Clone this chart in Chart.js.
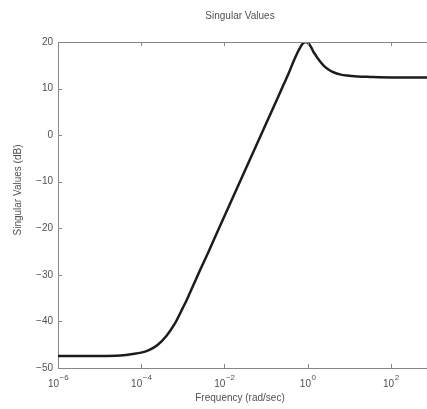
<!DOCTYPE html>
<html>
<head>
<meta charset="utf-8">
<script src="https://cdn.jsdelivr.net/npm/chart.js@4/dist/chart.umd.min.js"></script>
<style>
  html, body { margin: 0; padding: 0; background: #fff; }
  #c { display: block; }
</style>
</head>
<body>
<canvas id="c" width="427" height="409"></canvas>
<script>
// Frequencies (rad/sec)
const freqs = [1e-6, 3.16e-6, 1e-5, 3.16e-5, 6.31e-5, 1e-4, 1.58e-4, 2.51e-4, 3.98e-4, 6.31e-4,
  1e-3, 1.26e-3, 1.58e-3, 2.51e-3, 3.98e-3, 6.31e-3, 1e-2, 3.16e-2, 0.1, 0.2, 0.263, 0.355, 0.457,
  0.562, 0.661, 0.741, 0.813, 0.891, 0.977, 1.096, 1.23, 1.38, 1.58, 1.78, 2.09, 2.40, 3.16,
  4.17, 6.31, 8.71, 15.8, 31.6, 100, 316, 741];
// Singular values (dB)
const svDb = [-47.4, -47.4, -47.4, -47.3, -47.0, -46.7, -46.1, -45.0, -43.2, -40.6,
  -37.1, -35.3, -33.3, -29.3, -25.4, -21.4, -17.4, -7.5, 2.45, 8.4, 10.8, 13.4, 15.8,
  17.6, 18.8, 19.5, 19.85, 20.0, 19.9, 19.5, 18.8, 17.9, 17.1, 16.4, 15.6, 15.0, 14.1,
  13.5, 13.0, 12.8, 12.6, 12.5, 12.4, 12.4, 12.4];
// Tick labels
const xTickExponents = [-6, -4, -2, 0, 2];
const yTickValues = [-50, -40, -30, -20, -10, 0, 10, 20];
const titleText = 'Singular Values';
const xLabelText = 'Frequency (rad/sec)';
const yLabelText = 'Singular Values (dB)';

const FONT = '"Liberation Sans", Arial, sans-serif';
const AXIS_COLOR = '#868686';
const TEXT_COLOR = '#505050';

const decorPlugin = {
  id: 'decor',
  afterDraw(chart) {
    const ctx = chart.ctx;
    const a = chart.chartArea;
    const xs = chart.scales.x, ys = chart.scales.y;
    ctx.save();
    // top border
    ctx.strokeStyle = AXIS_COLOR;
    ctx.lineWidth = 1;
    ctx.beginPath();
    ctx.moveTo(a.left, Math.round(a.top) + 0.5);
    ctx.lineTo(a.right, Math.round(a.top) + 0.5);
    ctx.stroke();
    // inward tick marks
    ctx.beginPath();
    xTickExponents.forEach(e => {
      const px = Math.round(xs.getPixelForValue(Math.pow(10, e))) + 0.5;
      ctx.moveTo(px, a.bottom); ctx.lineTo(px, a.bottom - 4);
      ctx.moveTo(px, a.top); ctx.lineTo(px, a.top + 4);
    });
    yTickValues.forEach(v => {
      const py = Math.round(ys.getPixelForValue(v)) + 0.5;
      ctx.moveTo(a.left, py); ctx.lineTo(a.left + 4, py);
    });
    ctx.stroke();
    // x tick labels with superscript exponents
    ctx.fillStyle = TEXT_COLOR;
    ctx.textBaseline = 'alphabetic';
    xTickExponents.forEach(e => {
      const px = xs.getPixelForValue(Math.pow(10, e));
      const base = '10';
      const exp = e < 0 ? '\u2212' + Math.abs(e) : String(e);
      ctx.font = '10px ' + FONT;
      const wb = ctx.measureText(base).width;
      ctx.font = '8px ' + FONT;
      const we = ctx.measureText(exp).width;
      const start = px - (wb + we) / 2;
      ctx.textAlign = 'left';
      ctx.font = '10px ' + FONT;
      ctx.fillText(base, start, 387);
      ctx.font = '8px ' + FONT;
      ctx.fillText(exp, start + wb + 0.5, 380);
    });
    // title
    ctx.textAlign = 'center';
    ctx.textBaseline = 'middle';
    ctx.font = '10px ' + FONT;
    ctx.fillText(titleText, 240, 16);
    // x label
    ctx.fillText(xLabelText, 240, 398);
    // y label
    ctx.translate(18, 190);
    ctx.rotate(-Math.PI / 2);
    ctx.fillText(yLabelText, 0, 0);
    ctx.restore();
  }
};

const points = freqs.map((f, i) => ({ x: f, y: svDb[i] }));

new Chart(document.getElementById('c'), {
  type: 'line',
  data: {
    datasets: [{
      data: points,
      borderColor: '#1c1c1c',
      borderWidth: 2.5,
      pointRadius: 0,
      fill: false,
      cubicInterpolationMode: 'monotone'
    }]
  },
  options: {
    responsive: false,
    animation: false,
    devicePixelRatio: 1,
    layout: { padding: { top: 42, right: 0, left: 0, bottom: 0 } },
    plugins: { legend: { display: false }, tooltip: { enabled: false }, title: { display: false } },
    scales: {
      x: {
        type: 'logarithmic',
        min: 1e-6,
        max: 741,
        afterBuildTicks: s => { s.ticks = xTickExponents.map(e => ({ value: Math.pow(10, e) })); },
        afterFit: s => { s.height = 41; },
        ticks: { display: false },
        grid: { display: true, drawOnChartArea: false, drawTicks: false },
        border: { display: true, color: AXIS_COLOR, width: 1 }
      },
      y: {
        type: 'linear',
        min: -50,
        max: 20,
        afterBuildTicks: s => { s.ticks = yTickValues.map(v => ({ value: v })); },
        afterFit: s => { s.width = 58; },
        ticks: {
          padding: 5,
          color: TEXT_COLOR,
          font: { family: FONT, size: 10 },
          callback: v => (v < 0 ? '\u2212' + Math.abs(v) : String(v))
        },
        grid: { display: true, drawOnChartArea: false, drawTicks: false },
        border: { display: true, color: AXIS_COLOR, width: 1 }
      }
    }
  },
  plugins: [decorPlugin]
});
</script>
</body>
</html>
